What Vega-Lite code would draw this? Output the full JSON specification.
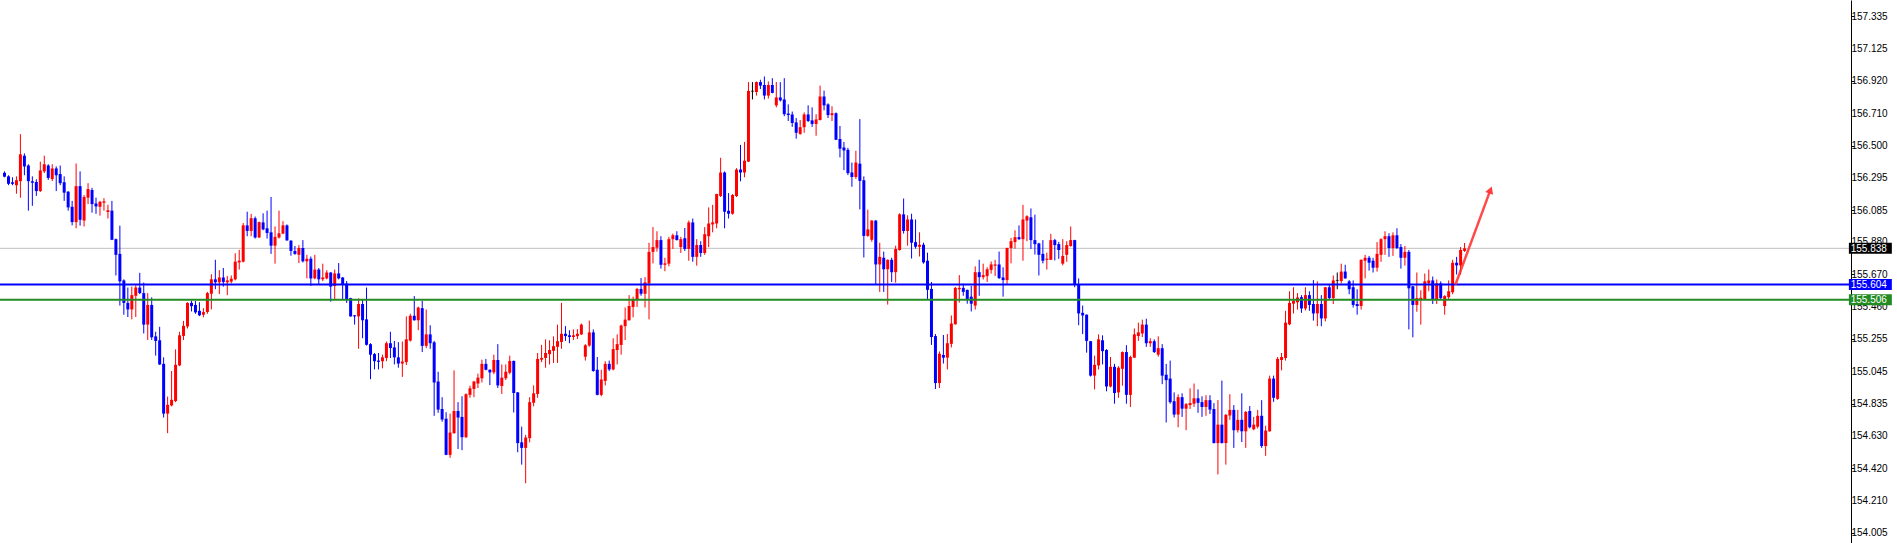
{
"$schema": "https://vega.github.io/schema/vega-lite/v6.json",
"width": 1851, "height": 543,
"autosize": {"type": "none"},
"padding": {"left": 0, "top": 0, "right": 46, "bottom": 0},
"background": "white",
"config": {"view": {"stroke": null}, "axisY": {"grid": false, "orient": "right", "tickSize": 3, "tickColor": "#000000", "domainColor": "#000000", "labels": false, "title": null}},
"datasets": {
"candles": [
{"k":-1,"o":156.325,"h":156.334,"l":156.296,"c":156.300},
{"k":0,"o":156.302,"h":156.309,"l":156.245,"c":156.254},
{"k":1,"o":156.264,"h":156.296,"l":156.245,"c":156.254},
{"k":2,"o":156.245,"h":156.302,"l":156.190,"c":156.277},
{"k":3,"o":156.271,"h":156.574,"l":156.165,"c":156.444},
{"k":4,"o":156.435,"h":156.450,"l":156.309,"c":156.366},
{"k":5,"o":156.372,"h":156.380,"l":156.081,"c":156.271},
{"k":6,"o":156.271,"h":156.302,"l":156.112,"c":156.260},
{"k":7,"o":156.266,"h":156.283,"l":156.176,"c":156.207},
{"k":8,"o":156.207,"h":156.397,"l":156.201,"c":156.340},
{"k":9,"o":156.334,"h":156.435,"l":156.323,"c":156.380},
{"k":10,"o":156.372,"h":156.380,"l":156.279,"c":156.292},
{"k":11,"o":156.285,"h":156.380,"l":156.271,"c":156.353},
{"k":12,"o":156.353,"h":156.366,"l":156.207,"c":156.309},
{"k":13,"o":156.317,"h":156.372,"l":156.245,"c":156.258},
{"k":14,"o":156.264,"h":156.302,"l":156.144,"c":156.197},
{"k":15,"o":156.203,"h":156.207,"l":156.081,"c":156.102},
{"k":16,"o":156.106,"h":156.144,"l":155.986,"c":156.007},
{"k":17,"o":156.007,"h":156.385,"l":155.967,"c":156.239},
{"k":18,"o":156.239,"h":156.334,"l":155.984,"c":156.022},
{"k":19,"o":156.017,"h":156.182,"l":155.979,"c":156.169},
{"k":20,"o":156.165,"h":156.258,"l":156.123,"c":156.220},
{"k":21,"o":156.214,"h":156.228,"l":156.068,"c":156.123},
{"k":22,"o":156.127,"h":156.165,"l":156.060,"c":156.108},
{"k":23,"o":156.106,"h":156.144,"l":156.049,"c":156.138},
{"k":24,"o":156.133,"h":156.161,"l":156.081,"c":156.138},
{"k":25,"o":156.072,"h":156.119,"l":156.030,"c":156.083},
{"k":26,"o":156.081,"h":156.144,"l":155.891,"c":155.893},
{"k":27,"o":155.897,"h":155.901,"l":155.663,"c":155.796},
{"k":28,"o":155.802,"h":155.984,"l":155.469,"c":155.625},
{"k":29,"o":155.631,"h":155.638,"l":155.410,"c":155.486},
{"k":30,"o":155.486,"h":155.585,"l":155.395,"c":155.444},
{"k":31,"o":155.444,"h":155.591,"l":155.380,"c":155.536},
{"k":32,"o":155.532,"h":155.600,"l":155.395,"c":155.585},
{"k":33,"o":155.585,"h":155.680,"l":155.543,"c":155.549},
{"k":34,"o":155.549,"h":155.617,"l":155.289,"c":155.346},
{"k":35,"o":155.346,"h":155.549,"l":155.247,"c":155.473},
{"k":36,"o":155.473,"h":155.522,"l":155.247,"c":155.264},
{"k":37,"o":155.270,"h":155.300,"l":155.146,"c":155.241},
{"k":38,"o":155.245,"h":155.332,"l":155.086,"c":155.089},
{"k":39,"o":155.093,"h":155.135,"l":154.747,"c":154.772},
{"k":40,"o":154.772,"h":154.882,"l":154.646,"c":154.829},
{"k":41,"o":154.825,"h":155.047,"l":154.819,"c":154.861},
{"k":42,"o":154.853,"h":155.186,"l":154.846,"c":155.087},
{"k":43,"o":155.083,"h":155.300,"l":155.078,"c":155.277},
{"k":44,"o":155.273,"h":155.370,"l":155.247,"c":155.338},
{"k":45,"o":155.334,"h":155.490,"l":155.321,"c":155.486},
{"k":46,"o":155.486,"h":155.500,"l":155.431,"c":155.465},
{"k":47,"o":155.473,"h":155.498,"l":155.416,"c":155.425},
{"k":48,"o":155.435,"h":155.490,"l":155.401,"c":155.406},
{"k":49,"o":155.410,"h":155.452,"l":155.393,"c":155.427},
{"k":50,"o":155.427,"h":155.557,"l":155.416,"c":155.549},
{"k":51,"o":155.545,"h":155.671,"l":155.444,"c":155.638},
{"k":52,"o":155.638,"h":155.764,"l":155.574,"c":155.619},
{"k":53,"o":155.619,"h":155.697,"l":155.543,"c":155.650},
{"k":54,"o":155.650,"h":155.711,"l":155.591,"c":155.621},
{"k":55,"o":155.619,"h":155.659,"l":155.536,"c":155.631},
{"k":56,"o":155.623,"h":155.663,"l":155.612,"c":155.642},
{"k":57,"o":155.638,"h":155.806,"l":155.631,"c":155.752},
{"k":58,"o":155.747,"h":155.828,"l":155.701,"c":155.758},
{"k":59,"o":155.752,"h":156.001,"l":155.747,"c":155.986},
{"k":60,"o":155.986,"h":156.074,"l":155.916,"c":155.950},
{"k":61,"o":155.950,"h":156.060,"l":155.916,"c":156.032},
{"k":62,"o":156.032,"h":156.043,"l":155.901,"c":155.908},
{"k":63,"o":155.908,"h":156.010,"l":155.905,"c":156.007},
{"k":64,"o":156.005,"h":156.064,"l":155.954,"c":155.960},
{"k":65,"o":155.967,"h":156.081,"l":155.901,"c":155.937},
{"k":66,"o":155.941,"h":156.169,"l":155.802,"c":155.855},
{"k":67,"o":155.855,"h":155.979,"l":155.739,"c":155.912},
{"k":68,"o":155.908,"h":156.081,"l":155.901,"c":155.935},
{"k":69,"o":155.933,"h":156.013,"l":155.929,"c":155.986},
{"k":70,"o":155.986,"h":155.992,"l":155.887,"c":155.889},
{"k":71,"o":155.887,"h":155.891,"l":155.790,"c":155.821},
{"k":72,"o":155.821,"h":155.853,"l":155.796,"c":155.802},
{"k":73,"o":155.796,"h":155.859,"l":155.743,"c":155.840},
{"k":74,"o":155.840,"h":155.891,"l":155.747,"c":155.754},
{"k":75,"o":155.754,"h":155.796,"l":155.644,"c":155.771},
{"k":76,"o":155.771,"h":155.785,"l":155.595,"c":155.644},
{"k":77,"o":155.644,"h":155.796,"l":155.638,"c":155.701},
{"k":78,"o":155.701,"h":155.711,"l":155.606,"c":155.638},
{"k":79,"o":155.638,"h":155.739,"l":155.627,"c":155.650},
{"k":80,"o":155.644,"h":155.697,"l":155.638,"c":155.682},
{"k":81,"o":155.682,"h":155.684,"l":155.494,"c":155.591},
{"k":82,"o":155.595,"h":155.701,"l":155.511,"c":155.676},
{"k":83,"o":155.676,"h":155.743,"l":155.638,"c":155.644},
{"k":84,"o":155.650,"h":155.652,"l":155.511,"c":155.606},
{"k":85,"o":155.610,"h":155.627,"l":155.486,"c":155.511},
{"k":86,"o":155.517,"h":155.519,"l":155.397,"c":155.399},
{"k":87,"o":155.406,"h":155.408,"l":155.346,"c":155.399},
{"k":88,"o":155.399,"h":155.515,"l":155.190,"c":155.479},
{"k":89,"o":155.479,"h":155.511,"l":155.258,"c":155.374},
{"k":90,"o":155.380,"h":155.585,"l":155.211,"c":155.216},
{"k":91,"o":155.220,"h":155.226,"l":154.994,"c":155.152},
{"k":92,"o":155.156,"h":155.163,"l":155.057,"c":155.110},
{"k":93,"o":155.114,"h":155.163,"l":155.057,"c":155.108},
{"k":94,"o":155.110,"h":155.152,"l":155.064,"c":155.135},
{"k":95,"o":155.131,"h":155.237,"l":155.110,"c":155.226},
{"k":96,"o":155.226,"h":155.300,"l":155.131,"c":155.195},
{"k":97,"o":155.199,"h":155.241,"l":155.089,"c":155.135},
{"k":98,"o":155.135,"h":155.233,"l":155.068,"c":155.095},
{"k":99,"o":155.095,"h":155.237,"l":155.009,"c":155.108},
{"k":100,"o":155.104,"h":155.399,"l":155.085,"c":155.251},
{"k":101,"o":155.243,"h":155.416,"l":155.237,"c":155.403},
{"k":102,"o":155.403,"h":155.530,"l":155.372,"c":155.374},
{"k":103,"o":155.374,"h":155.462,"l":155.310,"c":155.456},
{"k":104,"o":155.452,"h":155.500,"l":155.169,"c":155.209},
{"k":105,"o":155.209,"h":155.443,"l":155.194,"c":155.283},
{"k":106,"o":155.283,"h":155.342,"l":155.190,"c":155.226},
{"k":107,"o":155.232,"h":155.241,"l":154.758,"c":154.973},
{"k":108,"o":154.979,"h":155.042,"l":154.777,"c":154.798},
{"k":109,"o":154.802,"h":154.878,"l":154.720,"c":154.734},
{"k":110,"o":154.739,"h":154.781,"l":154.504,"c":154.506},
{"k":111,"o":154.506,"h":154.772,"l":154.487,"c":154.650},
{"k":112,"o":154.646,"h":155.051,"l":154.642,"c":154.789},
{"k":113,"o":154.789,"h":154.846,"l":154.544,"c":154.747},
{"k":114,"o":154.751,"h":154.884,"l":154.536,"c":154.620},
{"k":115,"o":154.620,"h":154.903,"l":154.614,"c":154.897},
{"k":116,"o":154.893,"h":154.952,"l":154.874,"c":154.935},
{"k":117,"o":154.931,"h":154.983,"l":154.878,"c":154.979},
{"k":118,"o":154.966,"h":155.030,"l":154.937,"c":155.004},
{"k":119,"o":155.000,"h":155.120,"l":154.973,"c":155.093},
{"k":120,"o":155.093,"h":155.125,"l":155.051,"c":155.055},
{"k":121,"o":155.055,"h":155.057,"l":154.956,"c":155.038},
{"k":122,"o":155.038,"h":155.152,"l":155.026,"c":155.118},
{"k":123,"o":155.118,"h":155.220,"l":154.937,"c":154.954},
{"k":124,"o":154.950,"h":155.089,"l":154.899,"c":155.004},
{"k":125,"o":155.000,"h":155.089,"l":154.988,"c":155.042},
{"k":126,"o":155.036,"h":155.146,"l":155.026,"c":155.112},
{"k":127,"o":155.112,"h":155.114,"l":154.779,"c":154.905},
{"k":128,"o":154.909,"h":154.911,"l":154.523,"c":154.582},
{"k":129,"o":154.587,"h":154.688,"l":154.443,"c":154.551},
{"k":130,"o":154.551,"h":154.635,"l":154.323,"c":154.618},
{"k":131,"o":154.614,"h":154.878,"l":154.587,"c":154.846},
{"k":132,"o":154.842,"h":154.954,"l":154.819,"c":154.903},
{"k":133,"o":154.899,"h":155.163,"l":154.874,"c":155.125},
{"k":134,"o":155.120,"h":155.215,"l":155.104,"c":155.131},
{"k":135,"o":155.131,"h":155.251,"l":155.068,"c":155.163},
{"k":136,"o":155.156,"h":155.245,"l":155.089,"c":155.182},
{"k":137,"o":155.177,"h":155.270,"l":155.099,"c":155.207},
{"k":138,"o":155.203,"h":155.346,"l":155.099,"c":155.239},
{"k":139,"o":155.234,"h":155.486,"l":155.190,"c":155.287},
{"k":140,"o":155.287,"h":155.336,"l":155.241,"c":155.272},
{"k":141,"o":155.277,"h":155.310,"l":155.226,"c":155.266},
{"k":142,"o":155.266,"h":155.315,"l":155.247,"c":155.277},
{"k":143,"o":155.272,"h":155.317,"l":155.253,"c":155.287},
{"k":144,"o":155.283,"h":155.353,"l":155.279,"c":155.346},
{"k":145,"o":155.139,"h":155.220,"l":155.114,"c":155.213},
{"k":146,"o":155.211,"h":155.372,"l":155.203,"c":155.296},
{"k":147,"o":155.296,"h":155.315,"l":155.042,"c":155.047},
{"k":148,"o":155.055,"h":155.137,"l":154.890,"c":154.893},
{"k":149,"o":154.893,"h":155.055,"l":154.884,"c":154.992},
{"k":150,"o":154.983,"h":155.110,"l":154.954,"c":155.093},
{"k":151,"o":155.093,"h":155.114,"l":155.047,"c":155.057},
{"k":152,"o":155.057,"h":155.258,"l":155.051,"c":155.188},
{"k":153,"o":155.182,"h":155.283,"l":155.089,"c":155.220},
{"k":154,"o":155.215,"h":155.346,"l":155.152,"c":155.340},
{"k":155,"o":155.336,"h":155.456,"l":155.247,"c":155.378},
{"k":156,"o":155.374,"h":155.536,"l":155.372,"c":155.466},
{"k":157,"o":155.460,"h":155.526,"l":155.393,"c":155.511},
{"k":158,"o":155.511,"h":155.583,"l":155.460,"c":155.576},
{"k":159,"o":155.576,"h":155.646,"l":155.532,"c":155.545},
{"k":160,"o":155.545,"h":155.652,"l":155.456,"c":155.618},
{"k":161,"o":155.612,"h":155.874,"l":155.380,"c":155.815},
{"k":162,"o":155.815,"h":155.975,"l":155.741,"c":155.846},
{"k":163,"o":155.842,"h":155.948,"l":155.817,"c":155.891},
{"k":164,"o":155.891,"h":155.916,"l":155.707,"c":155.732},
{"k":165,"o":155.732,"h":155.777,"l":155.690,"c":155.741},
{"k":166,"o":155.739,"h":155.912,"l":155.722,"c":155.897},
{"k":167,"o":155.897,"h":155.933,"l":155.834,"c":155.922},
{"k":168,"o":155.922,"h":155.948,"l":155.889,"c":155.891},
{"k":169,"o":155.846,"h":155.912,"l":155.808,"c":155.897},
{"k":170,"o":155.903,"h":155.969,"l":155.821,"c":155.834},
{"k":171,"o":155.834,"h":156.017,"l":155.758,"c":156.005},
{"k":172,"o":156.005,"h":156.030,"l":155.751,"c":155.783},
{"k":173,"o":155.783,"h":155.897,"l":155.726,"c":155.859},
{"k":174,"o":155.859,"h":155.884,"l":155.783,"c":155.808},
{"k":175,"o":155.808,"h":155.975,"l":155.796,"c":155.929},
{"k":176,"o":155.916,"h":156.102,"l":155.846,"c":155.998},
{"k":177,"o":155.992,"h":156.118,"l":155.941,"c":156.005},
{"k":178,"o":155.998,"h":156.190,"l":155.967,"c":156.188},
{"k":179,"o":156.175,"h":156.422,"l":156.169,"c":156.327},
{"k":180,"o":156.327,"h":156.334,"l":155.967,"c":156.074},
{"k":181,"o":156.080,"h":156.194,"l":156.030,"c":156.061},
{"k":182,"o":156.061,"h":156.188,"l":156.055,"c":156.182},
{"k":183,"o":156.175,"h":156.355,"l":156.169,"c":156.346},
{"k":184,"o":156.346,"h":156.505,"l":156.270,"c":156.327},
{"k":185,"o":156.327,"h":156.524,"l":156.296,"c":156.403},
{"k":186,"o":156.397,"h":156.910,"l":156.395,"c":156.853},
{"k":187,"o":156.851,"h":156.910,"l":156.798,"c":156.851},
{"k":188,"o":156.846,"h":156.914,"l":156.823,"c":156.910},
{"k":189,"o":156.910,"h":156.925,"l":156.865,"c":156.887},
{"k":190,"o":156.891,"h":156.946,"l":156.798,"c":156.823},
{"k":191,"o":156.823,"h":156.914,"l":156.804,"c":156.891},
{"k":192,"o":156.891,"h":156.935,"l":156.838,"c":156.840},
{"k":193,"o":156.760,"h":156.910,"l":156.747,"c":156.811},
{"k":194,"o":156.811,"h":156.910,"l":156.785,"c":156.792},
{"k":195,"o":156.798,"h":156.935,"l":156.690,"c":156.703},
{"k":196,"o":156.707,"h":156.766,"l":156.659,"c":156.697},
{"k":197,"o":156.701,"h":156.720,"l":156.621,"c":156.646},
{"k":198,"o":156.650,"h":156.678,"l":156.545,"c":156.583},
{"k":199,"o":156.576,"h":156.665,"l":156.570,"c":156.619},
{"k":200,"o":156.619,"h":156.714,"l":156.583,"c":156.701},
{"k":201,"o":156.701,"h":156.760,"l":156.652,"c":156.659},
{"k":202,"o":156.663,"h":156.747,"l":156.621,"c":156.640},
{"k":203,"o":156.640,"h":156.703,"l":156.564,"c":156.669},
{"k":204,"o":156.665,"h":156.887,"l":156.663,"c":156.817},
{"k":205,"o":156.817,"h":156.855,"l":156.728,"c":156.760},
{"k":206,"o":156.766,"h":156.773,"l":156.678,"c":156.697},
{"k":207,"o":156.697,"h":156.754,"l":156.659,"c":156.709},
{"k":208,"o":156.709,"h":156.714,"l":156.536,"c":156.538},
{"k":209,"o":156.543,"h":156.627,"l":156.424,"c":156.481},
{"k":210,"o":156.488,"h":156.524,"l":156.342,"c":156.469},
{"k":211,"o":156.473,"h":156.486,"l":156.310,"c":156.323},
{"k":212,"o":156.327,"h":156.391,"l":156.235,"c":156.298},
{"k":213,"o":156.298,"h":156.467,"l":156.285,"c":156.391},
{"k":214,"o":156.384,"h":156.671,"l":156.089,"c":156.273},
{"k":215,"o":156.277,"h":156.302,"l":155.779,"c":155.918},
{"k":216,"o":155.918,"h":156.087,"l":155.912,"c":155.960},
{"k":217,"o":155.893,"h":156.019,"l":155.880,"c":156.017},
{"k":218,"o":156.017,"h":156.019,"l":155.608,"c":155.734},
{"k":219,"o":155.734,"h":155.874,"l":155.557,"c":155.783},
{"k":220,"o":155.777,"h":155.817,"l":155.557,"c":155.703},
{"k":221,"o":155.703,"h":155.766,"l":155.475,"c":155.764},
{"k":222,"o":155.764,"h":155.777,"l":155.621,"c":155.684},
{"k":223,"o":155.684,"h":155.855,"l":155.617,"c":155.834},
{"k":224,"o":155.827,"h":156.064,"l":155.823,"c":156.057},
{"k":225,"o":156.057,"h":156.159,"l":155.933,"c":155.950},
{"k":226,"o":155.950,"h":156.051,"l":155.855,"c":156.024},
{"k":227,"o":156.024,"h":156.061,"l":155.772,"c":155.874},
{"k":228,"o":155.878,"h":156.024,"l":155.836,"c":155.848},
{"k":229,"o":155.848,"h":155.941,"l":155.785,"c":155.861},
{"k":230,"o":155.861,"h":155.874,"l":155.739,"c":155.747},
{"k":231,"o":155.758,"h":155.810,"l":155.511,"c":155.570},
{"k":232,"o":155.576,"h":155.621,"l":155.215,"c":155.266},
{"k":233,"o":155.272,"h":155.285,"l":154.931,"c":154.969},
{"k":234,"o":154.969,"h":155.173,"l":154.937,"c":155.158},
{"k":235,"o":155.150,"h":155.279,"l":155.095,"c":155.133},
{"k":236,"o":155.133,"h":155.285,"l":155.057,"c":155.226},
{"k":237,"o":155.222,"h":155.405,"l":155.199,"c":155.353},
{"k":238,"o":155.348,"h":155.589,"l":155.346,"c":155.583},
{"k":239,"o":155.574,"h":155.665,"l":155.488,"c":155.583},
{"k":240,"o":155.583,"h":155.610,"l":155.532,"c":155.557},
{"k":241,"o":155.570,"h":155.572,"l":155.481,"c":155.511},
{"k":242,"o":155.526,"h":155.595,"l":155.431,"c":155.481},
{"k":243,"o":155.469,"h":155.722,"l":155.443,"c":155.684},
{"k":244,"o":155.684,"h":155.764,"l":155.532,"c":155.652},
{"k":245,"o":155.652,"h":155.739,"l":155.637,"c":155.665},
{"k":246,"o":155.659,"h":155.716,"l":155.621,"c":155.703},
{"k":247,"o":155.699,"h":155.753,"l":155.675,"c":155.734},
{"k":248,"o":155.726,"h":155.764,"l":155.659,"c":155.734},
{"k":249,"o":155.734,"h":155.817,"l":155.640,"c":155.646},
{"k":250,"o":155.650,"h":155.716,"l":155.526,"c":155.633},
{"k":251,"o":155.633,"h":155.842,"l":155.608,"c":155.840},
{"k":252,"o":155.840,"h":155.905,"l":155.741,"c":155.884},
{"k":253,"o":155.878,"h":155.954,"l":155.836,"c":155.910},
{"k":254,"o":155.910,"h":155.986,"l":155.891,"c":155.897},
{"k":255,"o":155.897,"h":156.118,"l":155.758,"c":156.024},
{"k":256,"o":156.017,"h":156.051,"l":155.884,"c":156.045},
{"k":257,"o":156.038,"h":156.095,"l":155.834,"c":155.891},
{"k":258,"o":155.891,"h":156.055,"l":155.798,"c":155.865},
{"k":259,"o":155.869,"h":155.874,"l":155.663,"c":155.796},
{"k":260,"o":155.802,"h":155.891,"l":155.741,"c":155.758},
{"k":261,"o":155.764,"h":155.810,"l":155.701,"c":155.771},
{"k":262,"o":155.764,"h":155.931,"l":155.762,"c":155.891},
{"k":263,"o":155.891,"h":155.899,"l":155.760,"c":155.859},
{"k":264,"o":155.865,"h":155.880,"l":155.770,"c":155.827},
{"k":265,"o":155.739,"h":155.897,"l":155.728,"c":155.789},
{"k":266,"o":155.796,"h":155.884,"l":155.751,"c":155.859},
{"k":267,"o":155.853,"h":155.979,"l":155.848,"c":155.891},
{"k":268,"o":155.891,"h":155.893,"l":155.587,"c":155.608},
{"k":269,"o":155.608,"h":155.644,"l":155.342,"c":155.418},
{"k":270,"o":155.422,"h":155.469,"l":155.285,"c":155.405},
{"k":271,"o":155.410,"h":155.412,"l":155.165,"c":155.241},
{"k":272,"o":155.239,"h":155.241,"l":155.011,"c":155.017},
{"k":273,"o":155.017,"h":155.146,"l":154.928,"c":155.087},
{"k":274,"o":155.083,"h":155.283,"l":155.057,"c":155.251},
{"k":275,"o":155.245,"h":155.277,"l":155.089,"c":155.175},
{"k":276,"o":155.182,"h":155.188,"l":154.916,"c":154.947},
{"k":277,"o":154.947,"h":155.137,"l":154.941,"c":155.074},
{"k":278,"o":155.074,"h":155.093,"l":154.836,"c":154.905},
{"k":279,"o":154.909,"h":155.078,"l":154.874,"c":155.068},
{"k":280,"o":155.061,"h":155.173,"l":154.952,"c":155.169},
{"k":281,"o":155.169,"h":155.213,"l":154.836,"c":154.893},
{"k":282,"o":154.893,"h":155.146,"l":154.815,"c":155.137},
{"k":283,"o":155.133,"h":155.321,"l":155.131,"c":155.283},
{"k":284,"o":155.272,"h":155.359,"l":155.241,"c":155.296},
{"k":285,"o":155.289,"h":155.378,"l":155.266,"c":155.346},
{"k":286,"o":155.346,"h":155.384,"l":155.203,"c":155.226},
{"k":287,"o":155.226,"h":155.258,"l":155.203,"c":155.239},
{"k":288,"o":155.239,"h":155.251,"l":155.163,"c":155.169},
{"k":289,"o":155.152,"h":155.270,"l":155.139,"c":155.194},
{"k":290,"o":155.194,"h":155.220,"l":154.962,"c":155.017},
{"k":291,"o":155.023,"h":155.093,"l":154.715,"c":154.988},
{"k":292,"o":154.998,"h":155.114,"l":154.836,"c":154.846},
{"k":293,"o":154.852,"h":154.909,"l":154.747,"c":154.766},
{"k":294,"o":154.766,"h":154.897,"l":154.684,"c":154.878},
{"k":295,"o":154.878,"h":154.903,"l":154.751,"c":154.804},
{"k":296,"o":154.804,"h":154.840,"l":154.665,"c":154.833},
{"k":297,"o":154.827,"h":154.935,"l":154.802,"c":154.840},
{"k":298,"o":154.836,"h":154.966,"l":154.815,"c":154.871},
{"k":299,"o":154.871,"h":154.928,"l":154.777,"c":154.842},
{"k":300,"o":154.846,"h":154.884,"l":154.751,"c":154.815},
{"k":301,"o":154.815,"h":154.891,"l":154.758,"c":154.859},
{"k":302,"o":154.859,"h":154.891,"l":154.770,"c":154.798},
{"k":303,"o":154.802,"h":154.840,"l":154.580,"c":154.582},
{"k":304,"o":154.582,"h":154.859,"l":154.380,"c":154.701},
{"k":305,"o":154.701,"h":154.985,"l":154.580,"c":154.582},
{"k":306,"o":154.582,"h":154.770,"l":154.443,"c":154.764},
{"k":307,"o":154.760,"h":154.897,"l":154.732,"c":154.796},
{"k":308,"o":154.796,"h":154.827,"l":154.551,"c":154.665},
{"k":309,"o":154.665,"h":154.796,"l":154.650,"c":154.732},
{"k":310,"o":154.732,"h":154.903,"l":154.589,"c":154.658},
{"k":311,"o":154.658,"h":154.789,"l":154.551,"c":154.783},
{"k":312,"o":154.789,"h":154.821,"l":154.677,"c":154.684},
{"k":313,"o":154.671,"h":154.751,"l":154.665,"c":154.701},
{"k":314,"o":154.688,"h":154.796,"l":154.677,"c":154.758},
{"k":315,"o":154.758,"h":154.859,"l":154.551,"c":154.563},
{"k":316,"o":154.563,"h":154.694,"l":154.500,"c":154.663},
{"k":317,"o":154.658,"h":155.017,"l":154.656,"c":154.998},
{"k":318,"o":154.998,"h":155.017,"l":154.848,"c":154.874},
{"k":319,"o":154.867,"h":155.137,"l":154.861,"c":155.125},
{"k":320,"o":155.118,"h":155.163,"l":155.051,"c":155.137},
{"k":321,"o":155.131,"h":155.435,"l":155.114,"c":155.359},
{"k":322,"o":155.348,"h":155.561,"l":155.342,"c":155.486},
{"k":323,"o":155.481,"h":155.587,"l":155.418,"c":155.498},
{"k":324,"o":155.490,"h":155.549,"l":155.443,"c":155.521},
{"k":325,"o":155.523,"h":155.536,"l":155.422,"c":155.450},
{"k":326,"o":155.450,"h":155.587,"l":155.437,"c":155.536},
{"k":327,"o":155.536,"h":155.561,"l":155.435,"c":155.473},
{"k":328,"o":155.479,"h":155.633,"l":155.372,"c":155.418},
{"k":329,"o":155.418,"h":155.625,"l":155.336,"c":155.479},
{"k":330,"o":155.479,"h":155.536,"l":155.336,"c":155.386},
{"k":331,"o":155.386,"h":155.589,"l":155.367,"c":155.587},
{"k":332,"o":155.587,"h":155.606,"l":155.511,"c":155.517},
{"k":333,"o":155.517,"h":155.663,"l":155.479,"c":155.631},
{"k":334,"o":155.631,"h":155.682,"l":155.574,"c":155.631},
{"k":335,"o":155.627,"h":155.739,"l":155.612,"c":155.688},
{"k":336,"o":155.688,"h":155.732,"l":155.642,"c":155.644},
{"k":337,"o":155.625,"h":155.633,"l":155.542,"c":155.574},
{"k":338,"o":155.587,"h":155.631,"l":155.456,"c":155.473},
{"k":339,"o":155.479,"h":155.574,"l":155.410,"c":155.466},
{"k":340,"o":155.466,"h":155.766,"l":155.443,"c":155.764},
{"k":341,"o":155.758,"h":155.796,"l":155.644,"c":155.777},
{"k":342,"o":155.777,"h":155.789,"l":155.694,"c":155.745},
{"k":343,"o":155.758,"h":155.777,"l":155.682,"c":155.713},
{"k":344,"o":155.713,"h":155.878,"l":155.688,"c":155.802},
{"k":345,"o":155.796,"h":155.903,"l":155.751,"c":155.897},
{"k":346,"o":155.897,"h":155.948,"l":155.796,"c":155.916},
{"k":347,"o":155.916,"h":155.935,"l":155.783,"c":155.840},
{"k":348,"o":155.840,"h":155.941,"l":155.789,"c":155.922},
{"k":349,"o":155.922,"h":155.967,"l":155.834,"c":155.840},
{"k":350,"o":155.846,"h":155.865,"l":155.707,"c":155.777},
{"k":351,"o":155.777,"h":155.853,"l":155.726,"c":155.815},
{"k":352,"o":155.815,"h":155.827,"l":155.315,"c":155.580},
{"k":353,"o":155.593,"h":155.595,"l":155.264,"c":155.473},
{"k":354,"o":155.473,"h":155.682,"l":155.429,"c":155.517},
{"k":355,"o":155.511,"h":155.568,"l":155.346,"c":155.519},
{"k":356,"o":155.511,"h":155.675,"l":155.509,"c":155.625},
{"k":357,"o":155.612,"h":155.701,"l":155.561,"c":155.631},
{"k":358,"o":155.631,"h":155.656,"l":155.479,"c":155.511},
{"k":359,"o":155.511,"h":155.637,"l":155.479,"c":155.612},
{"k":360,"o":155.612,"h":155.625,"l":155.511,"c":155.517},
{"k":361,"o":155.466,"h":155.536,"l":155.410,"c":155.530},
{"k":362,"o":155.523,"h":155.631,"l":155.511,"c":155.561},
{"k":363,"o":155.555,"h":155.764,"l":155.542,"c":155.745},
{"k":364,"o":155.745,"h":155.783,"l":155.669,"c":155.728},
{"k":365,"o":155.728,"h":155.846,"l":155.669,"c":155.827},
{"k":366,"o":155.821,"h":155.872,"l":155.815,"c":155.838}
],
"ticks": [
{"v":157.335},{"v":157.125},{"v":156.920},{"v":156.710},{"v":156.500},{"v":156.295},{"v":156.085},{"v":155.880},{"v":155.670},{"v":155.460},{"v":155.255},{"v":155.045},{"v":154.835},{"v":154.630},{"v":154.420},{"v":154.210},{"v":154.005}
],
"tags": [
{"name":"bid","price":155.838},
{"name":"resistance","price":155.604},
{"name":"support","price":155.506}
],
"arrowLine": [
{"k":363.7,"p":155.603},
{"k":372.3,"p":156.200}
],
"arrowHead": [
{"k":372.5,"p":156.214}
]
},
"layer": [
{
"data": {"name":"tags"},
"transform": [{"filter":"datum.name == 'bid'"}],
"mark": {"type":"rule","color":"#C0C0C0","strokeWidth":1},
"encoding": {
"y": {"field":"price","type":"quantitative","scale":{"domain":[153.970,157.407],"nice":false,"zero":false},"title":null,
"axis": {"orient":"right","values":[157.335,157.125,156.920,156.710,156.500,156.295,156.085,155.880,155.670,155.460,155.255,155.045,154.835,154.630,154.420,154.210,154.005],"labels":false,"grid":false,"title":null,"tickSize":3,"tickColor":"#000000","domainColor":"#000000"}}
}
},
{
"data": {"name":"candles"},
"mark": {"type":"rule","strokeWidth":1,"clip":true},
"encoding": {
"x": {"field":"k","type":"quantitative","scale":{"domain":[-0.875,461.875],"nice":false,"zero":false},"axis":null},
"y": {"field":"l","type":"quantitative","scale":{"domain":[153.970,157.407],"nice":false,"zero":false},"title":null},
"y2": {"field":"h"},
"color": {"condition":[{"test":"datum.c > datum.o","value":"#FF0000"},{"test":"datum.c == datum.o","value":"#000000"}],"value":"#0000FF"}
}
},
{
"data": {"name":"candles"},
"mark": {"type":"bar","size":3,"clip":true},
"encoding": {
"x": {"field":"k","type":"quantitative","scale":{"domain":[-0.875,461.875],"nice":false,"zero":false},"axis":null},
"y": {"field":"o","type":"quantitative","scale":{"domain":[153.970,157.407],"nice":false,"zero":false},"title":null},
"y2": {"field":"c"},
"color": {"condition":[{"test":"datum.c > datum.o","value":"#FF0000"},{"test":"datum.c == datum.o","value":"#000000"}],"value":"#0000FF"}
}
},
{
"data": {"name":"candles"},
"transform": [{"filter":"abs(datum.c - datum.o) < 0.0065"}],
"mark": {"type":"tick","orient":"horizontal","size":3,"thickness":1,"clip":true},
"encoding": {
"x": {"field":"k","type":"quantitative","scale":{"domain":[-0.875,461.875],"nice":false,"zero":false},"axis":null},
"y": {"field":"c","type":"quantitative","scale":{"domain":[153.970,157.407],"nice":false,"zero":false},"title":null},
"color": {"condition":[{"test":"datum.c > datum.o","value":"#FF0000"},{"test":"datum.c == datum.o","value":"#000000"}],"value":"#0000FF"}
}
},
{
"data": {"name":"tags"},
"transform": [{"filter":"datum.name != 'bid'"}],
"mark": {"type":"rule","strokeWidth":2},
"encoding": {
"y": {"field":"price","type":"quantitative","scale":{"domain":[153.970,157.407],"nice":false,"zero":false},"title":null},
"color": {"field":"name","type":"nominal","scale":{"domain":["bid","resistance","support"],"range":["#000000","#0000FF","#228B22"]},"legend":null}
}
},
{
"data": {"name":"arrowLine"},
"mark": {"type":"line","color":"#FF2A2A","strokeWidth":2.5,"opacity":0.85},
"encoding": {
"x": {"field":"k","type":"quantitative","scale":{"domain":[-0.875,461.875],"nice":false,"zero":false},"axis":null},
"y": {"field":"p","type":"quantitative","scale":{"domain":[153.970,157.407],"nice":false,"zero":false},"title":null}
}
},
{
"data": {"name":"arrowHead"},
"mark": {"type":"point","shape":"triangle-up","angle":20,"size":70,"filled":true,"color":"#FF2A2A","opacity":0.9},
"encoding": {
"x": {"field":"k","type":"quantitative","scale":{"domain":[-0.875,461.875],"nice":false,"zero":false},"axis":null},
"y": {"field":"p","type":"quantitative","scale":{"domain":[153.970,157.407],"nice":false,"zero":false},"title":null}
}
},
{
"data": {"name":"ticks"},
"mark": {"type":"text","align":"left","baseline":"middle","font":"Liberation Sans","fontSize":10,"color":"#000000","dy":0.5},
"encoding": {
"x": {"datum":463.25,"type":"quantitative","scale":{"domain":[-0.875,461.875],"nice":false,"zero":false},"axis":null},
"y": {"field":"v","type":"quantitative","scale":{"domain":[153.970,157.407],"nice":false,"zero":false},"title":null},
"text": {"field":"v","type":"quantitative","format":".3f"}
}
},
{
"data": {"name":"tags"},
"mark": {"type":"bar","size":11},
"encoding": {
"x": {"datum":462.6,"type":"quantitative","scale":{"domain":[-0.875,461.875],"nice":false,"zero":false},"axis":null},
"x2": {"datum":473.4},
"y": {"field":"price","type":"quantitative","scale":{"domain":[153.970,157.407],"nice":false,"zero":false},"title":null},
"color": {"field":"name","type":"nominal","scale":{"domain":["bid","resistance","support"],"range":["#000000","#0000FF","#228B22"]},"legend":null}
}
},
{
"data": {"name":"tags"},
"mark": {"type":"text","align":"left","baseline":"middle","font":"Liberation Sans","fontSize":10,"color":"#FFFFFF","dy":0.5},
"encoding": {
"x": {"datum":463.05,"type":"quantitative","scale":{"domain":[-0.875,461.875],"nice":false,"zero":false},"axis":null},
"y": {"field":"price","type":"quantitative","scale":{"domain":[153.970,157.407],"nice":false,"zero":false},"title":null},
"text": {"field":"price","type":"quantitative","format":".3f"}
}
}
]
}
